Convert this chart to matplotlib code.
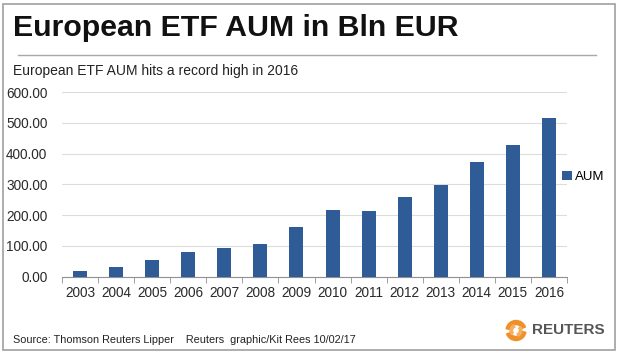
import matplotlib
matplotlib.use("Agg")
import matplotlib.pyplot as plt
from matplotlib.patches import Rectangle, Wedge

# -----------------------------------------
# DATA
# -----------------------------------------

years = ["2003", "2004", "2005", "2006", "2007", "2008", "2009",
         "2010", "2011", "2012", "2013", "2014", "2015", "2016"]
aum = [20, 31, 54, 79, 92, 107, 161, 217, 213, 258, 298, 374, 428, 514]
y_ticks = [0, 100, 200, 300, 400, 500, 600]

bar_color = "#2F5B97"
plt.rcParams["font.family"] = ["Liberation Sans", "DejaVu Sans"]

# -----------------------------------------
# FIGURE
# -----------------------------------------

W, H = 620, 354
fig = plt.figure(figsize=(W / 100, H / 100), dpi=100)
fig.patch.set_facecolor("white")

# outer frame
fig.add_artist(Rectangle((3 / W, 4 / H), 612 / W, 346 / H, transform=fig.transFigure,
                         fill=False, edgecolor="#A0A0A0", linewidth=1.2))

fig.text(13 / W, 1 - 28 / H, "European ETF AUM in Bln EUR", fontsize=21.8,
         fontweight="bold", va="center", ha="left", color="#111111")
fig.add_artist(plt.Line2D([18 / W, 596 / W], [1 - 54.5 / H, 1 - 54.5 / H],
                          transform=fig.transFigure, color="#A8A8A8", linewidth=1))
fig.text(13 / W, 1 - 71 / H, "European ETF AUM hits a record high in 2016", fontsize=10,
         va="center", ha="left", color="#222222")

# -----------------------------------------
# AXES
# -----------------------------------------

ax = fig.add_axes([62 / W, 1 - 276.7 / H, 505 / W, 184.7 / H])
x = range(len(years))
bars = ax.bar(x, aum, width=0.39, color=bar_color, label="AUM", zorder=3)

ax.set_xlim(-0.5, len(years) - 0.5)
ax.set_ylim(0, 600)
ax.set_yticks(y_ticks)
ax.set_yticklabels([f"{v:.2f}" for v in y_ticks], fontsize=9.8, color="#2A2A2A")
ax.set_xticks(list(x))
ax.set_xticklabels(years, fontsize=9.8, color="#2A2A2A")
ax.tick_params(axis="x", length=0, pad=7)
ax.tick_params(axis="y", length=0, pad=10.5)

# minor ticks at category boundaries
ax.set_xticks([i - 0.5 for i in range(len(years) + 1)], minor=True)
ax.tick_params(axis="x", which="minor", length=4, color="#909090", direction="out")

ax.grid(axis="y", color="#DCDCDC", linewidth=0.8, zorder=0)
for s in ["top", "right", "left"]:
    ax.spines[s].set_visible(False)
ax.spines["bottom"].set_color("#909090")

ax.legend(loc="center left", bbox_to_anchor=(0.99, 0.54), frameon=False, fontsize=9.5,
          handlelength=0.75, handleheight=0.75, handletextpad=0.2, borderaxespad=0.0,
          borderpad=0.0)

# -----------------------------------------
# FOOTER
# -----------------------------------------

fig.text(13 / W, 1 - 340 / H, "Source: Thomson Reuters Lipper    Reuters  graphic/Kit Rees 10/02/17",
         fontsize=7.8, va="center", ha="left", color="#222222")

# rough Reuters logo (orange swirl)
for ang in (20, 200):
    fig.add_artist(Wedge((516, H - 330.5), 10, ang, ang + 150, width=4,
                         transform=None, color="#F0902A"))
for ang in (110, 290):
    fig.add_artist(Wedge((516, H - 330.5), 6, ang, ang + 110, width=2.5,
                         transform=None, color="#F6B060"))
fig.text(532 / W, 1 - 330.5 / H, "REUTERS", fontsize=11, fontweight="bold",
         va="center", ha="left", color="#555555")

fig.savefig("out.png", dpi=100)
